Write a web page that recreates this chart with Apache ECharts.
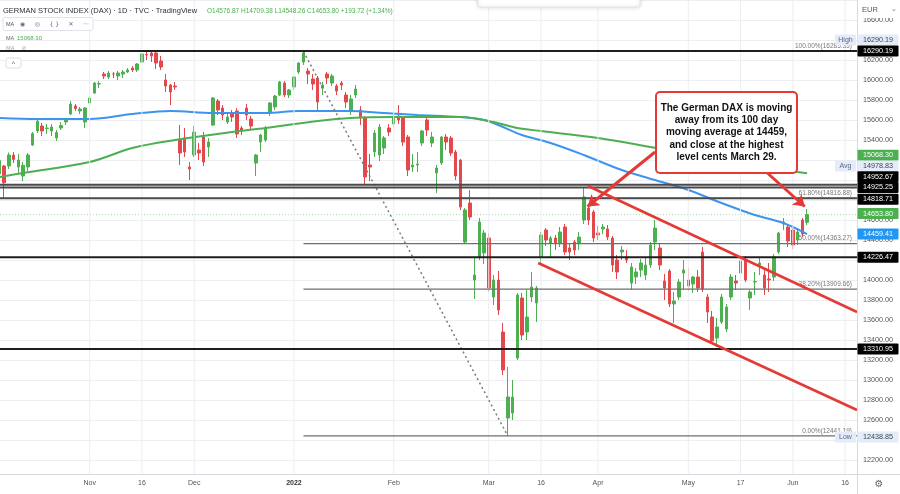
<!DOCTYPE html>
<html><head><meta charset="utf-8">
<script src="https://cdn.jsdelivr.net/npm/echarts/dist/echarts.min.js"></script>
<style>html,body{margin:0;padding:0;background:#fff}#c{width:900px;height:494px}</style>
</head><body><div id="c"></div><script>
// ---------- DATA ----------
const dates = [
'2021-10-05','2021-10-06','2021-10-07','2021-10-08','2021-10-11','2021-10-12','2021-10-13','2021-10-14','2021-10-15','2021-10-18','2021-10-19','2021-10-20','2021-10-21','2021-10-22','2021-10-25','2021-10-26','2021-10-27','2021-10-28','2021-10-29',
'2021-11-01','2021-11-02','2021-11-03','2021-11-04','2021-11-05','2021-11-08','2021-11-09','2021-11-10','2021-11-11','2021-11-12','2021-11-15','2021-11-16','2021-11-17','2021-11-18','2021-11-19','2021-11-22','2021-11-23','2021-11-24','2021-11-25','2021-11-26','2021-11-29','2021-11-30',
'2021-12-01','2021-12-02','2021-12-03','2021-12-06','2021-12-07','2021-12-08','2021-12-09','2021-12-10','2021-12-13','2021-12-14','2021-12-15','2021-12-16','2021-12-17','2021-12-20','2021-12-21','2021-12-22','2021-12-23','2021-12-27','2021-12-28','2021-12-29','2021-12-30',
'2022-01-03','2022-01-04','2022-01-05','2022-01-06','2022-01-07','2022-01-10','2022-01-11','2022-01-12','2022-01-13','2022-01-14','2022-01-17','2022-01-18','2022-01-19','2022-01-20','2022-01-21','2022-01-24','2022-01-25','2022-01-26','2022-01-27','2022-01-28','2022-01-31',
'2022-02-01','2022-02-02','2022-02-03','2022-02-04','2022-02-07','2022-02-08','2022-02-09','2022-02-10','2022-02-11','2022-02-14','2022-02-15','2022-02-16','2022-02-17','2022-02-18','2022-02-21','2022-02-22','2022-02-23','2022-02-24','2022-02-25','2022-02-28',
'2022-03-01','2022-03-02','2022-03-03','2022-03-04','2022-03-07','2022-03-08','2022-03-09','2022-03-10','2022-03-11','2022-03-14','2022-03-15','2022-03-16','2022-03-17','2022-03-18','2022-03-21','2022-03-22','2022-03-23','2022-03-24','2022-03-25','2022-03-28','2022-03-29','2022-03-30','2022-03-31',
'2022-04-01','2022-04-04','2022-04-05','2022-04-06','2022-04-07','2022-04-08','2022-04-11','2022-04-12','2022-04-13','2022-04-14','2022-04-19','2022-04-20','2022-04-21','2022-04-22','2022-04-25','2022-04-26','2022-04-27','2022-04-28','2022-04-29',
'2022-05-02','2022-05-03','2022-05-04','2022-05-05','2022-05-06','2022-05-09','2022-05-10','2022-05-11','2022-05-12','2022-05-13','2022-05-16','2022-05-17','2022-05-18','2022-05-19','2022-05-20','2022-05-23','2022-05-24','2022-05-25','2022-05-26','2022-05-27','2022-05-30','2022-05-31',
'2022-06-01','2022-06-02','2022-06-03','2022-06-06','2022-06-07','2022-06-08','2022-06-09','2022-06-10','2022-06-13','2022-06-14','2022-06-15','2022-06-16','2022-06-17','2022-06-20'
];
// [open, close, low, high]
const ohlc = [
[15060,15195,15030,15230],[15140,14973,14818.71,15150],[15140,15250,15110,15275],[15250,15206,15170,15280],[15130,15200,15060,15260],
[15040,15147,14990,15180],[15130,15250,15090,15270],[15350,15463,15340,15480],[15490,15587,15470,15620],[15540,15490,15440,15570],
[15515,15520,15460,15560],[15490,15530,15440,15560],[15420,15475,15390,15500],[15520,15545,15500,15580],[15580,15600,15550,15620],
[15660,15760,15650,15790],[15740,15715,15690,15760],[15690,15710,15660,15730],[15580,15720,15520,15730],
[15770,15820,15750,15840],[15870,15970,15860,15980],[15960,15965,15920,15990],[16060,16040,16010,16080],[16030,16070,16010,16090],
[16060,16060,16020,16080],[16040,16070,16000,16090],[16060,16080,16020,16100],[16080,16100,16070,16120],[16120,16100,16080,16140],
[16100,16160,16080,16170],[16180,16260,16170,16270],[16255,16250,16200,16285],[16270,16240,16180,16290.19],[16270,16170,16110,16280],
[16190,16130,16100,16240],[16000,15940,15880,16060],[15950,15880,15750,15960],[15940,15930,15900,15980],[15400,15270,15150,15550],
[15420,15280,15230,15520],[15130,15110,15000,15180],
[15250,15480,15230,15540],[15300,15270,15200,15370],[15430,15180,15140,15480],[15330,15380,15230,15420],[15550,15820,15540,15830],
[15790,15700,15650,15810],[15720,15650,15600,15750],[15580,15630,15560,15660],[15660,15630,15580,15700],[15690,15460,15420,15720],
[15520,15490,15450,15540],[15720,15650,15600,15760],[15610,15540,15500,15640],[15170,15250,15040,15260],[15380,15450,15280,15460],
[15400,15520,15380,15540],[15670,15770,15640,15780],[15730,15840,15700,15850],[15850,15980,15840,15990],[15970,15850,15830,15990],
[15850,15900,15820,15910],
[15930,16030,15900,16040],[16080,16170,16060,16180],[16180,16270,16150,16285.35],[16090,16060,15960,16120],[16010,15960,15900,16060],
[16020,15780,15700,16040],[15920,15950,15850,15980],[16060,16020,15960,16080],[15970,16040,15940,16060],[15940,15890,15850,15960],
[15970,15950,15900,15990],[15850,15780,15720,15880],[15700,15810,15650,15850],[15850,15910,15820,15950],[15700,15620,15550,15740],
[15620,15030,14960,15640],[15150,15130,14990,15260],[15280,15470,15230,15500],[15250,15530,15190,15560],[15320,15420,15260,15440],
[15520,15480,15440,15560],
[15560,15620,15530,15650],[15640,15600,15560,15750],[15620,15380,15340,15640],[15430,15100,15040,15450],[15130,15150,15080,15260],
[15150,15160,15080,15280],[15370,15490,15340,15500],[15600,15500,15440,15650],[15370,15430,15330,15480],[15070,15120,14870,15150],
[15170,15430,15150,15440],[15430,15380,15300,15460],[15420,15270,15240,15440],[15280,15040,15000,15300],[15200,14730,14700,15210],
[14380,14700,14360,14720],[14770,14630,14600,14900],[14000,14050,13810,14230],[14230,14580,14200,14620],[14270,14470,14160,14500],
[14420,13920,13880,14470],[13830,14000,13750,14050],[14000,13700,13650,14090],[13480,13100,13050,13570],[12620,12830,12438.85,13130],
[12670,12830,12600,13000],[13220,13850,13200,13870],[13820,13450,13400,13870],[13480,13630,13400,13900],[13830,13930,13780,14080],
[13770,13920,13580,13940],[14230,14450,14150,14480],[14500,14400,14340,14520],[14370,14420,14230,14440],[14420,14370,14300,14450],
[14370,14480,14330,14530],[14530,14280,14250,14560],[14320,14280,14200,14370],[14380,14300,14250,14400],[14370,14430,14300,14480],
[14600,14830,14560,14925.25],[14720,14600,14550,14760],[14680,14420,14380,14700],
[14470,14450,14400,14540],[14510,14530,14460,14560],[14510,14430,14400,14550],[14420,14150,14080,14440],[14200,14080,14010,14250],
[14280,14300,14200,14340],[14230,14200,14170,14300],[13970,14130,13900,14170],[14030,14080,13960,14120],[14100,14170,14030,14210],
[14050,14150,14000,14220],[14150,14350,14120,14380],[14380,14520,14300,14600],[14320,14150,14100,14360],[13990,13920,13800,14060],
[14090,13760,13730,14110],[13760,13790,13570,13880],[13830,13980,13800,14010],[14070,14100,13900,14200],
[14000,13940,13890,14120],[13960,14030,13870,14040],[14030,13920,13880,14100],[14280,13910,13880,14330],[13830,13680,13570,13860],
[13630,13390,13360,13690],[13420,13530,13330,13620],[13580,13830,13560,13860],[13510,13730,13480,13760],[13830,14030,13800,14060],
[13990,13970,13900,14050],[14070,14190,14040,14220],[14200,14000,13980,14240],[13820,13880,13700,13900],[13980,13985,13850,14080],
[14150,14170,14050,14230],[14050,13920,13850,14120],[14010,14000,13880,14170],[14030,14230,13990,14260],[14280,14470,14260,14480],
[14560,14580,14500,14620],[14530,14390,14330,14560],
[14500,14350,14310,14550],[14400,14480,14350,14500],[14600,14460,14430,14620],[14576.87,14653.80,14548.26,14709.38]
];
// moving averages read at sample bars: [barIndex, value]
const ma100 = [[0,15620],[8,15610],[19,15610],[28,15660],[36,15690],[45,15670],[56,15670],[63,15690],[74,15690],[81,15670],[88,15650],[97,15630],[102,15600],[105,15550],[110,15450],[116,15370],[123,15250],[131,15100],[138,15000],[145,14900],[152,14770],[159,14650],[165,14570],[170,14459.41]];
const ma200 = [[0,15030],[5,15070],[19,15180],[28,15320],[37,15400],[49,15480],[56,15520],[67,15590],[74,15620],[83,15630],[97,15630],[104,15580],[109,15520],[114,15490],[126,15420],[137,15330],[150,15210],[160,15130],[168,15080],[170,15068.30]];
const keyLevels = [16290.19, 14952.67, 14925.25, 14818.71, 14226.47, 13310.95];
const fibStart = 64, fibEnd = 107;
const fibLevels = [16285.35, 14816.88, 14363.27, 13909.66, 12441.19];
const fibNames = ['100.00%','61.80%','50.00%','38.20%','0.00%'];
const channelUpper = [[123.9,14940],[180.5,13680]];
const channelLower = [[113.4,14170],[180.5,12700]];
const arrowA = [[138.0,15280],[123.8,14735]];
const arrowB = [[161.4,15080],[169.5,14735]];
const lastClose = 14653.80;
const tickDates = ['2021-11-01','2021-11-16','2021-12-01','2022-01-03','2022-02-01','2022-03-01','2022-03-16','2022-04-01','2022-05-02','2022-05-17','2022-06-01','2022-06-16'];
const tickLabels = ['Nov','16','Dec','2022','Feb','Mar','16','Apr','May','17','Jun','16'];
const tagValues = [16290.19,16290.19,15068.30,14978.83,14952.67,14925.25,14818.71,14653.80,14459.41,14226.47,13310.95,12438.85];
const tagKinds  = ['light','dark','green','light','dark','dark','dark','green','blue','dark','dark','light'];
const tagNotes  = ['High','','','Avg','','','','','','','','Low'];
const noteLines = ['The German DAX is moving','away from its 100 day','moving average at 14459,','and close at the highest','level cents March 29.'];
const headerTitle = 'GERMAN STOCK INDEX (DAX) · 1D · TVC · TradingView';
const headerOHLC = 'O14576.87 H14709.38 L14548.26 C14653.80 +193.72 (+1.34%)';
const maLegend = '15068.30';

// ---------- CHART ----------
const chart = echarts.init(document.getElementById('c'), null, {renderer:'canvas'});
const UP='#4caf50', DOWN='#e5484a', RED='#e53935';
const FONT='"Liberation Sans", Arial, sans-serif';
const tickSet = new Set(tickDates);

function seg(pts, style, z){
  return {type:'line', xAxisIndex:1, yAxisIndex:0, data:pts, symbol:'none', silent:true, animation:false, z:z||4, lineStyle:style};
}
const series = [];
tickDates.forEach(d=>{
  const i = dates.indexOf(d);
  series.push(seg([[i,12060],[i,16800]], {color:'#eceef2', width:1}, 0));
});
series.push({type:'candlestick', xAxisIndex:0, yAxisIndex:0, data:ohlc, barWidth:3, z:2, animation:false,
  itemStyle:{color:UP, color0:DOWN, borderColor:UP, borderColor0:DOWN, borderWidth:1}});
series.push({type:'line', xAxisIndex:1, yAxisIndex:0, data:ma100, smooth:0.35, symbol:'none', z:3, animation:false, lineStyle:{color:'#3d94ee', width:2}});
series.push({type:'line', xAxisIndex:1, yAxisIndex:0, data:ma200, smooth:0.35, symbol:'none', z:3, animation:false, lineStyle:{color:'#4caf50', width:2}});
series.push(seg([[-0.5,lastClose],[180.5,lastClose]], {color:'rgba(76,175,80,0.45)', width:1, type:[1,2]}, 1));
fibLevels.forEach(v=>series.push(seg([[fibStart,v],[180.5,v]], {color:'#6f6f6f', width:1.2}, 4)));
series.push(seg([[fibStart,fibLevels[0]],[fibEnd,fibLevels[4]]], {color:'#7a7a7a', width:1.5, type:[2,3]}, 4));
keyLevels.forEach((v,k)=>series.push(seg([[-0.5,v],[180.5,v]], {color:(k>=1&&k<=3)?'#4a4a4a':'#1e1e1e', width:2}, 5)));
series.push(seg(channelUpper, {color:RED, width:2.5}, 6));
series.push(seg(channelLower, {color:RED, width:2.5}, 6));
series.push({type:'lines', coordinateSystem:'cartesian2d', xAxisIndex:1, yAxisIndex:0, z:7, silent:true, animation:false,
  symbol:['none','arrow'], symbolSize:11,
  lineStyle:{color:RED, width:3, opacity:1},
  data:[{coords:arrowA},{coords:arrowB}]});

chart.setOption({
  backgroundColor:'#ffffff',
  animation:false,
  grid:{left:-3, right:43, top:0, bottom:20, outerBoundsMode:'none', containLabel:false},
  xAxis:[
    {type:'category', data:dates, boundaryGap:true,
     axisLine:{show:true, lineStyle:{color:'#d6d9e0'}}, axisTick:{show:false}, splitLine:{show:false},
     axisLabel:{interval:(i,v)=>tickSet.has(v), margin:6, fontSize:7, color:'#555', fontFamily:FONT,
       formatter:v=>{const t=tickLabels[tickDates.indexOf(v)]; return t==='2022'?'{b|2022}':t;},
       rich:{b:{fontWeight:'bold', fontSize:7, color:'#333', fontFamily:FONT}}}},
    {type:'value', min:-0.5, max:180.5, show:false, splitLine:{show:false}}
  ],
  yAxis:[{type:'value', position:'right', min:12060, max:16800, splitNumber:24, minInterval:200, maxInterval:200,
    axisLine:{show:true, lineStyle:{color:'#d6d9e0'}}, axisTick:{show:false},
    splitLine:{show:true, lineStyle:{color:'#eceef2', width:1}},
    axisLabel:{show:true, showMinLabel:false, showMaxLabel:false, margin:6, fontSize:7.2, color:'#555', fontFamily:FONT,
      formatter:v=>v.toFixed(2)}}],
  series:series
});

// ---------- OVERLAYS ----------
const py = v => chart.convertToPixel({yAxisIndex:0}, v);
const tagShift = [-11,0,-18,-16,-8,0,1,-1,0,0,0,1];
const kindStyle = {light:{bg:'#e3ecf8', fg:'#3c4450'}, dark:{bg:'#000000', fg:'#ffffff'}, green:{bg:'#4caf50', fg:'#ffffff'}, blue:{bg:'#2196f3', fg:'#ffffff'}};
const g = [];
g.push({type:'rect', shape:{x:858, y:0, width:42, height:18}, style:{fill:'#fff'}, z:100});
g.push({type:'text', x:862, y:10, style:{text:'EUR', fontSize:7.5, fill:'#555', fontFamily:FONT, textVerticalAlign:'middle'}, z:101});
g.push({type:'text', x:891, y:9, style:{text:'⌄', fontSize:7, fill:'#777', fontFamily:FONT, textVerticalAlign:'middle'}, z:101});
tagValues.forEach((v,k)=>{
  const cy = py(v) + tagShift[k];
  const s = kindStyle[tagKinds[k]];
  g.push({type:'rect', shape:{x:857.5, y:cy-5.5, width:41, height:11, r:1}, style:{fill:s.bg}, z:110});
  g.push({type:'text', x:863, y:cy, style:{text:v.toFixed(2), fontSize:7.2, fill:s.fg, fontFamily:FONT, textVerticalAlign:'middle'}, z:111});
  if (tagNotes[k]) {
    g.push({type:'rect', shape:{x:835, y:cy-5.5, width:21, height:11, r:1}, style:{fill:s.bg}, z:110});
    g.push({type:'text', x:845.5, y:cy, style:{text:tagNotes[k], fontSize:7, fill:'#5a6a80', fontFamily:FONT, textAlign:'center', textVerticalAlign:'middle'}, z:111});
  }
});
fibLevels.forEach((v,k)=>{
  g.push({type:'text', x:852, y:py(v)-5, style:{text:fibNames[k]+'('+v.toFixed(2)+')', fontSize:6.5, fill:'#777', fontFamily:FONT, textAlign:'right', textVerticalAlign:'middle'}, z:90});
});
g.push({type:'rect', shape:{x:656, y:92, width:141, height:81, r:4}, style:{fill:'#fff', stroke:RED, lineWidth:2}, z:120});
g.push({type:'text', x:726.5, y:132.5, style:{text:noteLines.join('\n'), fontSize:10, fontWeight:'bold', fill:'#111', fontFamily:FONT, textAlign:'center', textVerticalAlign:'middle', lineHeight:12.3}, z:121});
g.push({type:'text', x:3, y:11, style:{text:headerTitle, fontSize:7.5, fill:'#2a2e39', fontFamily:FONT, textVerticalAlign:'middle'}, z:130});
g.push({type:'text', x:207, y:11.5, style:{text:headerOHLC, fontSize:6.5, fill:'#4caf50', fontFamily:FONT, textVerticalAlign:'middle'}, z:130});
g.push({type:'rect', shape:{x:3, y:17.5, width:90, height:13, r:2}, style:{fill:'#fff', stroke:'#e0e3eb', lineWidth:1}, z:130});
g.push({type:'text', x:6, y:24, style:{text:'MA', fontSize:5.5, fill:'#555', fontFamily:FONT, textVerticalAlign:'middle'}, z:131});
g.push({type:'text', x:20, y:24, style:{text:'◉     ◎     { }     ✕     ···', fontSize:6, fill:'#666', fontFamily:'"DejaVu Sans", sans-serif', textVerticalAlign:'middle'}, z:131});
g.push({type:'text', x:6, y:38, style:{text:'MA', fontSize:5.5, fill:'#666', fontFamily:FONT, textVerticalAlign:'middle'}, z:131});
g.push({type:'text', x:17, y:38, style:{text:maLegend, fontSize:6, fill:'#4caf50', fontFamily:FONT, textVerticalAlign:'middle'}, z:131});
g.push({type:'text', x:6, y:49, style:{text:'MA    ⊘', fontSize:5.5, fill:'#aaa', fontFamily:'"DejaVu Sans", sans-serif', textVerticalAlign:'middle'}, z:131});
g.push({type:'rect', shape:{x:6, y:58, width:15, height:10, r:2}, style:{fill:'#fff', stroke:'#dcdfe6', lineWidth:1}, z:131});
g.push({type:'text', x:13.5, y:64, style:{text:'^', fontSize:7, fill:'#555', fontFamily:FONT, textAlign:'center', textVerticalAlign:'middle'}, z:132});
g.push({type:'rect', shape:{x:478, y:-4, width:162, height:11, r:2}, style:{fill:'#fff', stroke:'#e0e3eb', lineWidth:1, shadowBlur:4, shadowColor:'rgba(0,0,0,0.15)'}, z:130});
g.push({type:'line', shape:{x1:857.5, y1:0, x2:857.5, y2:494}, style:{stroke:'#d6d9e0', lineWidth:1}, z:105});
g.push({type:'line', shape:{x1:857, y1:474.5, x2:900, y2:474.5}, style:{stroke:'#d6d9e0', lineWidth:1}, z:105});
g.push({type:'text', x:879, y:484, style:{text:'⚙', fontSize:10, fill:'#666', fontFamily:'"DejaVu Sans", sans-serif', textAlign:'center', textVerticalAlign:'middle'}, z:130});
chart.setOption({graphic:{elements:g}});
</script></body></html>
